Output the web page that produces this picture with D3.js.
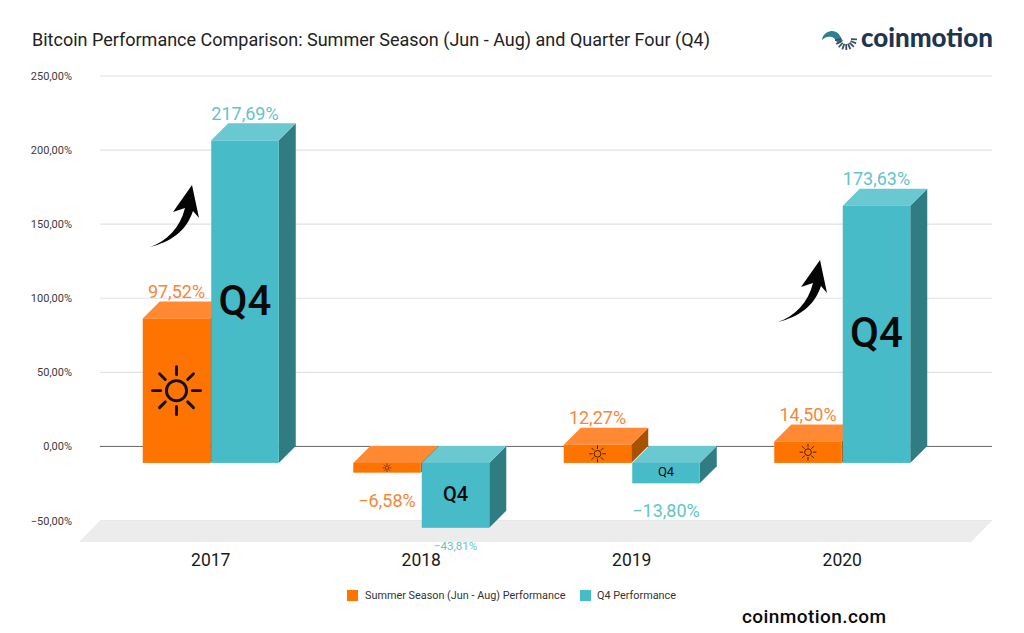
<!DOCTYPE html>
<html><head><meta charset="utf-8">
<script src="https://cdn.jsdelivr.net/npm/d3@7/dist/d3.min.js"></script>
<style>html,body{margin:0;padding:0;background:#fff}svg{display:block}text{font-family:Roboto,sans-serif}</style>
</head><body><svg id="c" width="1024" height="633"></svg>
<script>
const years = ["2017","2018","2019","2020"];
const summer = [97.52,-6.58,12.27,14.50];
const q4 = [217.69,-43.81,-13.80,173.63];
const ticks = [250,200,150,100,50,0,-50];
const seriesNames = ["Summer Season (Jun - Aug) Performance","Q4 Performance"];
const title = "Bitcoin Performance Comparison: Summer Season (Jun - Aug) and Quarter Four (Q4)";

const q4GlyphSize = [42,20,13,42];
const q4GlyphWeight = [500,500,400,500];
const sunRadius = [24,4,8,8];
const summerLabelSize = [18,18,18,18];
const q4LabelSize = [18,11.5,18,18];
const negLabelGap = {s:[0,34,0,0], q:[0,22,34,0]};

const svg = d3.select("#c");
const fmt = v => (v<0?"\u2212":"") + Math.abs(v).toFixed(2).replace(".",",") + "%";
const y = d3.scaleLinear().domain([-50,250]).range([520.5,76]);
const x = d3.scaleBand().domain(years).range([105.5,947.5]);
const barW = 67.5, depth = 17, zeroFront = y(0)+16.5;
const C = {s:{front:"#ff7300",top:"#ff8a33",side:"#a85200",label:"#f5873a"},
           q:{front:"#47bcc8",top:"#69c8d0",side:"#2f7c82",label:"#62c4c8"}};

// grid
svg.selectAll("line.g").data(ticks).join("line")
  .attr("x1",100).attr("x2",992).attr("y1",d=>y(d)).attr("y2",d=>y(d))
  .attr("stroke",d=>d===0?"#666":"#e2e2e2").attr("stroke-width",d=>d===0?1:1.2);
svg.selectAll("text.t").data(ticks).join("text")
  .attr("x",72).attr("y",d=>y(d)+4).attr("text-anchor","end")
  .attr("font-size",11).attr("fill","#3c3c3c")
  .text(d=>fmt(d));
// floor
svg.append("path").attr("fill","#ececec")
  .attr("d",d3.line()([[100,y(-50)],[992,y(-50)],[971,y(-50)+21.5],[79,y(-50)+21.5]])+"Z");

function sun(cx,cy,r,color){
  const g = svg.append("g").attr("stroke",color).attr("fill","none");
  const sw = Math.max(r*0.12,0.6);
  g.append("circle").attr("cx",cx).attr("cy",cy).attr("r",r*0.42).attr("stroke-width",sw);
  d3.range(8).forEach(i=>{
    const a=i*Math.PI/4;
    g.append("line").attr("x1",cx+Math.cos(a)*r*0.66).attr("y1",cy+Math.sin(a)*r*0.66)
      .attr("x2",cx+Math.cos(a)*r).attr("y2",cy+Math.sin(a)*r)
      .attr("stroke-width",sw).attr("stroke-linecap","round");
  });
}
function bar(x0,v,c){
  const fy = zeroFront + (y(v)-y(0));
  const top = Math.min(fy,zeroFront), bot = Math.max(fy,zeroFront);
  const line = d3.line();
  svg.append("path").attr("fill",c.side).attr("d",line([[x0+barW,top],[x0+barW+depth,top-depth],[x0+barW+depth,bot-depth],[x0+barW,bot]])+"Z");
  svg.append("path").attr("fill",c.top).attr("d",line([[x0,top],[x0+depth,top-depth],[x0+barW+depth,top-depth],[x0+barW,top]])+"Z");
  svg.append("rect").attr("x",x0).attr("y",top).attr("width",barW).attr("height",bot-top).attr("fill",c.front);
  return {top,bot};
}
years.forEach((yr,i)=>{
  const cx = x(yr)+x.bandwidth()/2;
  const sx = cx-barW-0.5, qx = cx+0.5;
  const a = bar(sx,summer[i],C.s);
  sun(sx+barW/2,(a.top+a.bot)/2,sunRadius[i],i===0?"#111":"#3a2000");
  const b = bar(qx,q4[i],C.q);
  svg.append("text").attr("x",qx+barW/2).attr("y",(b.top+b.bot)/2-2).attr("dy","0.36em")
    .attr("text-anchor","middle").attr("font-size",q4GlyphSize[i]).attr("font-weight",q4GlyphWeight[i]).attr("fill","#0a0a0a").text("Q4");
  svg.append("text").attr("x",sx+barW/2)
    .attr("y",summer[i]>=0?a.top-depth-3.5:a.bot+negLabelGap.s[i])
    .attr("text-anchor","middle").attr("font-size",summerLabelSize[i]).attr("fill",C.s.label).text(fmt(summer[i]));
  svg.append("text").attr("x",qx+barW/2)
    .attr("y",q4[i]>=0?b.top-depth-3.5:b.bot+negLabelGap.q[i])
    .attr("text-anchor","middle").attr("font-size",q4LabelSize[i]).attr("fill",C.q.label).text(fmt(q4[i]));
  svg.append("text").attr("x",cx).attr("y",566).attr("text-anchor","middle")
    .attr("font-size",17.5).attr("fill","#1a1a1a").text(yr);
});

// arrows
const arrowPath = "M150,247 C167,241 180,228 185,208 L173,212 L192,185 L199,218 L193,211 C186,232 170,242 150,247 Z";
[[0,0],[628,75]].forEach(t=>svg.append("path").attr("d",arrowPath)
  .attr("transform",`translate(${t[0]},${t[1]})`).attr("fill","#050505"));

// title
svg.append("text").attr("x",32).attr("y",46).attr("font-size",18).attr("fill","#222").text(title);

// legend
[[347,365,C.s.front],[580,597,C.q.front]].forEach((l,i)=>{
  svg.append("rect").attr("x",l[0]).attr("y",590).attr("width",11).attr("height",11).attr("fill",l[2]);
  svg.append("text").attr("x",l[1]).attr("y",599).attr("font-size",10.85).attr("fill","#333").text(seriesNames[i]);
});
svg.append("text").attr("x",742).attr("y",623).attr("font-size",19).attr("font-weight",500).attr("fill","#0a0a0a").attr("textLength",144).text("coinmotion.com");

// logo
svg.append("text").attr("x",861).attr("y",47).attr("font-size",26).attr("textLength",132).attr("lengthAdjust","spacingAndGlyphs")
  .attr("style","font-family:Lato,sans-serif;font-weight:900").attr("fill","#1d3550").text("coinmotion");
svg.append("path").attr("d","M822,40 C823,33 830,29 836,32 C840,34 841,38 843,41 L838,44 C836,41 835,38 832,37 C828,36 825,37 822,40 Z").attr("fill","#2f7f93");
d3.range(9).forEach(i=>{
  const a = Math.PI*(0.97-i*0.12), cx=846, cy=39;
  svg.append("line").attr("x1",cx+Math.cos(a)*5).attr("y1",cy+Math.sin(a)*5)
    .attr("x2",cx+Math.cos(a)*11).attr("y2",cy+Math.sin(a)*11)
    .attr("stroke","#3a4f66").attr("stroke-width",1.8);
});
</script></body></html>
